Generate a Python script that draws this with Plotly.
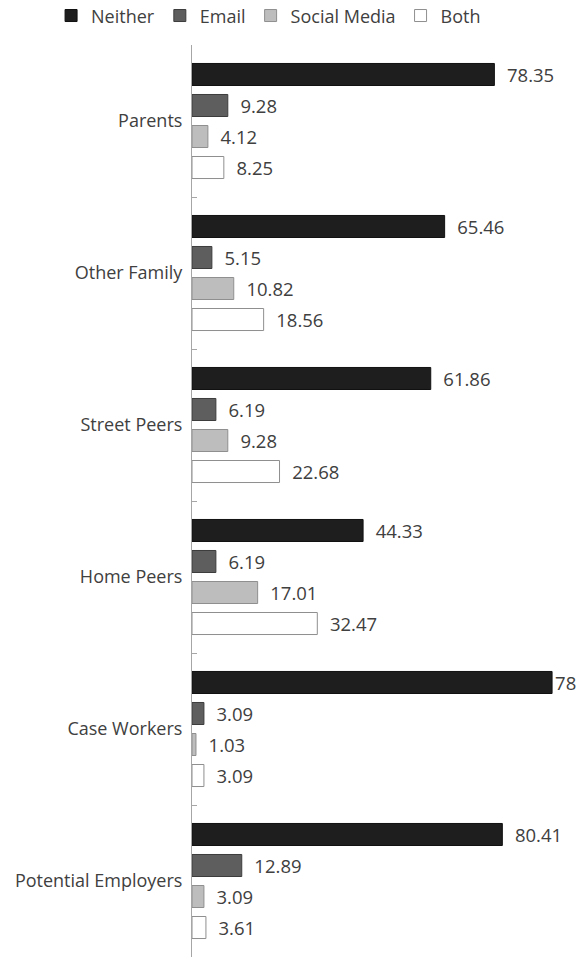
import plotly.graph_objects as go

categories = ["Parents", "Other Family", "Street Peers", "Home Peers", "Case Workers", "Potential Employers"]
series_names = ["Neither", "Email", "Social Media", "Both"]

# bar lengths
neither = [78.35, 65.46, 61.86, 44.33, 93.3, 80.41]
email = [9.28, 5.15, 6.19, 6.19, 3.09, 12.89]
social_media = [4.12, 10.82, 9.28, 17.01, 1.03, 3.09]
both = [8.25, 18.56, 22.68, 32.47, 3.09, 3.61]

# printed data labels
neither_labels = ["78.35", "65.46", "61.86", "44.33", "78", "80.41"]
email_labels = ["9.28", "5.15", "6.19", "6.19", "3.09", "12.89"]
social_media_labels = ["4.12", "10.82", "9.28", "17.01", "1.03", "3.09"]
both_labels = ["8.25", "18.56", "22.68", "32.47", "3.09", "3.61"]

values = [neither, email, social_media, both]
labels = [neither_labels, email_labels, social_media_labels, both_labels]
fills = ["#1e1e1e", "#5e5e5e", "#bdbdbd", "#ffffff"]
edges = ["#111111", "#3c3c3c", "#8f8f8f", "#8f8f8f"]

FONT = "Open Sans"
TXT = "#404040"
NB = "\u00a0\u00a0"

fig = go.Figure()
for name, vals, labs, fc, ec in zip(series_names, values, labels, fills, edges):
    texts = [(lab if v > 90 else NB + lab) for v, lab in zip(vals, labs)]
    fig.add_trace(go.Bar(
        name=name, y=categories, x=vals, orientation="h",
        marker=dict(color=fc, line=dict(color=ec, width=1)),
        text=texts, textposition="outside", cliponaxis=False,
        constraintext="none",
        textfont=dict(family=FONT, size=18.5, color=TXT),
        hoverinfo="skip",
    ))

fig.update_layout(
    width=576, height=957,
    margin=dict(l=192, r=0, t=45, b=0, autoexpand=False),
    paper_bgcolor="white", plot_bgcolor="white",
    barmode="group", bargap=0.184, bargroupgap=0.29,
    font=dict(family=FONT, size=18, color=TXT),
    showlegend=True,
    legend=dict(
        orientation="h", xref="paper", yref="paper",
        x=-0.367, xanchor="left", y=1.032, yanchor="middle",
        font=dict(family=FONT, size=18, color=TXT),
        itemwidth=30, traceorder="normal",
    ),
    xaxis=dict(visible=False, range=[0, 99.5], fixedrange=True, automargin=False),
    yaxis=dict(
        range=[5.5, -0.5], type="category", automargin=False,
        showline=True, linecolor="#a6a6a6", linewidth=1,
        ticks="inside", tickson="boundaries", ticklen=5, tickcolor="#a6a6a6",
        showgrid=False, ticklabelstandoff=5,
        tickfont=dict(family=FONT, size=18, color=TXT),
    ),
)

fig.write_html("out.html", config={"displayModeBar": False},
               post_script="document.body.style.margin='0px';")
